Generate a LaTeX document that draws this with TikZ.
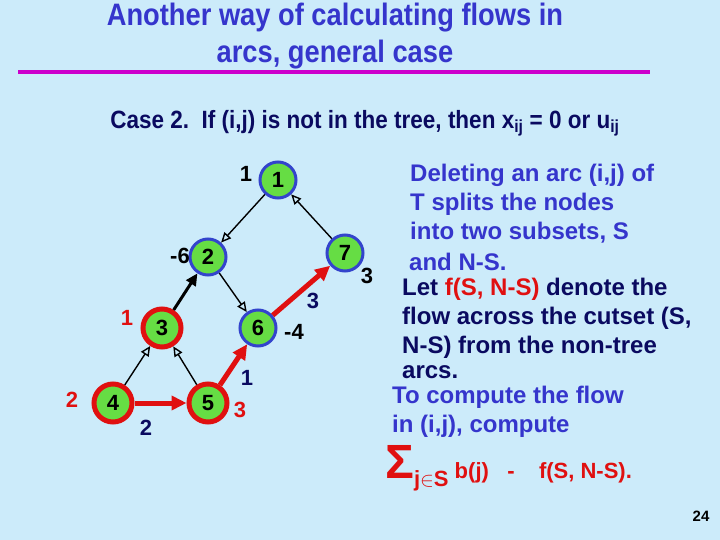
\documentclass[tikz,border=0pt]{standalone}
\usepackage{fontspec}
\setmainfont{Liberation Sans}
\usetikzlibrary{arrows.meta}
\definecolor{bg}{HTML}{CCEBFA}
\definecolor{ttl}{HTML}{3535CC}
\definecolor{navy}{HTML}{0A0A60}
\definecolor{mag}{HTML}{CC00CC}
\definecolor{ngreen}{HTML}{66DD44}
\definecolor{nblue}{HTML}{3344CC}
\definecolor{rd}{HTML}{E01010}
\tikzset{
 nd/.style={circle,fill=ngreen,draw=nblue,line width=3pt,minimum size=36pt,inner sep=0pt,font=\fontsize{22}{22}\selectfont\bfseries},
 rnd/.style={nd,draw=rd,line width=5pt,minimum size=38pt},
 lbl/.style={font=\fontsize{22}{22}\selectfont\bfseries,inner sep=0pt},
 thin/.style={draw=black,line width=1.4pt,-{Triangle[open,length=10pt,width=9pt]}},
 red/.style={draw=rd,line width=5pt,-{Triangle[length=15pt,width=14pt]}},
 txt/.style={anchor=west,font=\fontsize{24}{24}\selectfont\bfseries,inner sep=0pt}
}
\begin{document}
\begin{tikzpicture}[x=1pt,y=-1pt]
\fill[bg] (0,0) rectangle (720,540);
\useasboundingbox (0,0) rectangle (720,540);
\node[font=\fontsize{31}{31}\selectfont\bfseries,text=ttl,xscale=0.88,inner sep=0pt] (t1) at (335,18) {Another way of calculating flows in};
\node[font=\fontsize{31}{31}\selectfont\bfseries,text=ttl,xscale=0.88,inner sep=0pt] (t2) at (335,55) {arcs, general case};
\draw[mag,line width=4pt] (18,72) coordinate (m1) -- (650,72) coordinate (m2);
\node[font=\fontsize{25}{25}\selectfont\bfseries,text=navy,xscale=0.9,inner sep=0pt] (case) at (365,123) {Case 2.\ \ If (i,j) is not in the tree, then x\textsubscript{ij} = 0 or u\textsubscript{ij}};
% nodes
\node[nd] (n1) at (278,180) {1};
\node[nd] (n2) at (208,257) {2};
\node[nd] (n7) at (345,253) {7};
\node[rnd] (n3) at (162,328) {3};
\node[nd] (n6) at (258,328) {6};
\node[rnd] (n4) at (113,403) {4};
\node[rnd] (n5) at (208,403) {5};
% edges
\draw[thin] (n1) -- (n2);
\draw[thin] (n7) -- (n1);
\draw[thin] (n2) -- (n6);
\draw[thin] (n4) -- (n3);
\draw[thin] (n5) -- (n3);
\draw[draw=black,line width=3pt,-{Triangle[length=12pt,width=11pt]}] (n3) -- (n2);
\draw[red] (n4) -- (n5);
\draw[red] (n5) -- (n6);
\draw[red] (n6) -- (n7);
% labels
\node[lbl] (l1) at (246,174) {1};
\node[lbl] (l2) at (180,256) {-6};
\node[lbl] (l7) at (367,276) {3};
\node[lbl,text=navy] (l67) at (313,301) {3};
\node[lbl,text=rd] (l3) at (127,318) {1};
\node[lbl] (l6) at (294,332) {-4};
\node[lbl,text=navy] (l56) at (247,378) {1};
\node[lbl,text=rd] (l4) at (72,400) {2};
\node[lbl,text=rd] (l5) at (240,410) {3};
\node[lbl,text=navy] (l45) at (146,428) {2};
% right text
\node[txt,text=ttl] (r1) at (410,175) {Deleting an arc (i,j) of};
\node[txt,text=ttl] (r2) at (410,204) {T splits the nodes};
\node[txt,text=ttl] (r3) at (410,233) {into two subsets, S};
\node[txt,text=ttl] (r4) at (409,262) {and N-S.};
\node[txt,text=navy] (r5) at (402,289) {Let \textcolor{rd}{f(S, N-S)} denote the};
\node[txt,text=navy] (r6) at (402,318) {flow across the cutset (S,};
\node[txt,text=navy] (r7) at (402,347) {N-S) from the non-tree};
\node[txt,text=navy] (r8) at (402,372) {arcs.};
\node[txt,text=ttl] (r9) at (392,397) {To compute the flow};
\node[txt,text=ttl] (r10) at (392,426) {in (i,j), compute};
\node[txt,text=rd] (f) at (385,468) {{\fontsize{48}{48}\selectfont Σ}\raisebox{-8pt}{\fontsize{22}{22}\selectfont j$\in$S}\fontsize{22}{22}\selectfont\ b(j)\ \ \ -\ \ \ \ f(S, N-S).};
\node[font=\fontsize{15}{15}\selectfont\bfseries,inner sep=0pt] (pg) at (701,516) {24};
\end{tikzpicture}
\end{document}
